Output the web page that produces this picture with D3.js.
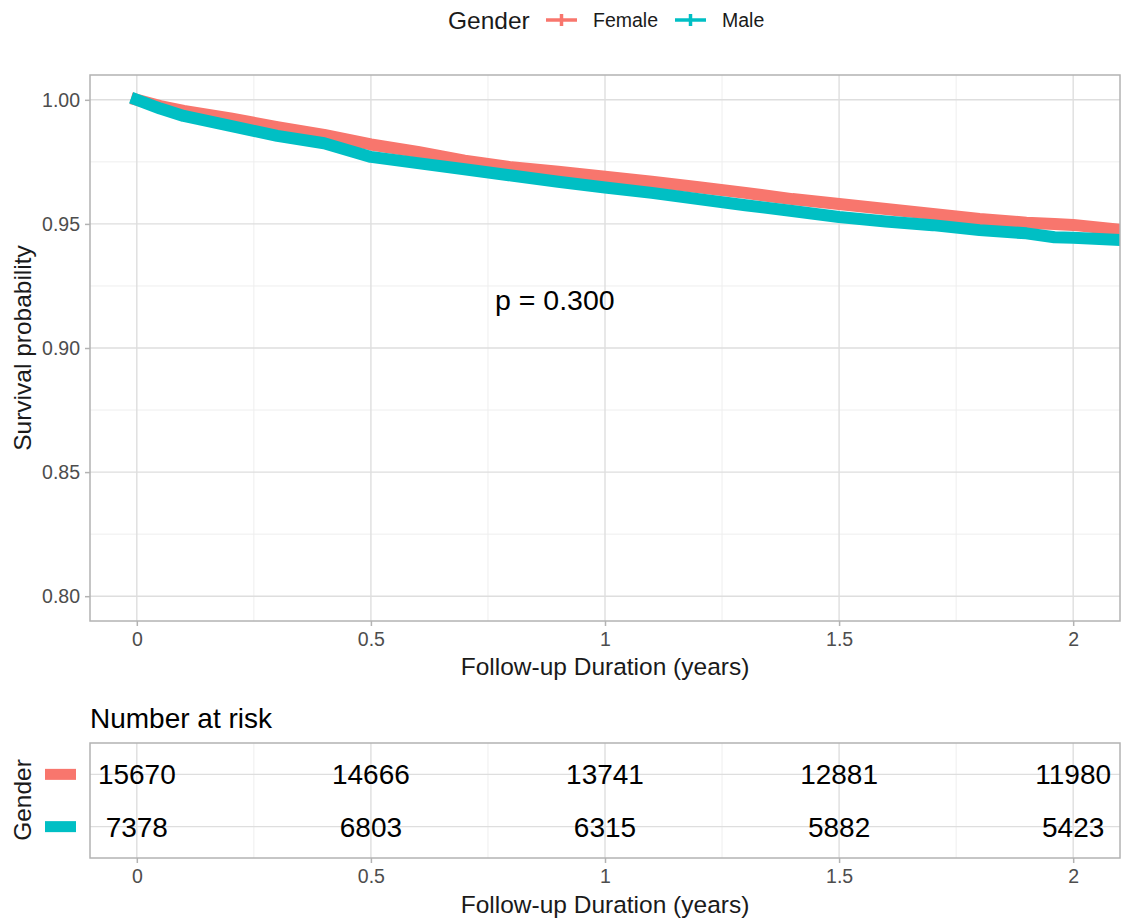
<!DOCTYPE html>
<html>
<head>
<meta charset="utf-8">
<script src="https://cdn.jsdelivr.net/npm/d3@7"></script>
<style>
  body { margin: 0; background: #fff; }
  svg { font-family: "Liberation Sans", Arial, sans-serif; }
</style>
</head>
<body>
<svg id="chart" width="1124" height="920"></svg>
<script>
// survival estimates (years, probability)
const times = [0, 0.05, 0.1, 0.2, 0.3, 0.4, 0.5, 0.6, 0.7, 0.8, 0.9, 1.0, 1.1, 1.2, 1.3, 1.4, 1.5, 1.6, 1.7, 1.8, 1.9, 1.96, 2.0, 2.1];
const femaleSurv = [1.000, 0.9975, 0.9955, 0.9925, 0.989, 0.9859, 0.982, 0.979, 0.9755, 0.9728, 0.971, 0.969, 0.967, 0.9648, 0.9625, 0.960, 0.958, 0.956, 0.954, 0.952, 0.9505, 0.950, 0.9496, 0.9476];
const maleSurv = [1.000, 0.9965, 0.9935, 0.9895, 0.9855, 0.9825, 0.977, 0.9745, 0.972, 0.9695, 0.967, 0.9647, 0.9625, 0.960, 0.9575, 0.9552, 0.9528, 0.951, 0.9495, 0.9475, 0.9462, 0.9446, 0.9444, 0.9435];

const groups = ['Female', 'Male'];
const colors = ['#F8766D', '#00BFC4'];

const riskTimes = [0, 0.5, 1, 1.5, 2];
const riskFemale = [15670, 14666, 13741, 12881, 11980];
const riskMale = [7378, 6803, 6315, 5882, 5423];

const xTicks = [0, 0.5, 1, 1.5, 2];
const xMinor = [0.25, 0.75, 1.25, 1.75];
const yTicks = [0.80, 0.85, 0.90, 0.95, 1.00];
const yMinor = [0.825, 0.875, 0.925, 0.975];

const pText = 'p = 0.300';

const svg = d3.select('#chart');
const gridMajor = '#dedede';
const gridMinor = '#eeeeee';
const borderCol = '#b3b3b3';
const tickText = '#4d4d4d';

const x = d3.scaleLinear().domain([-0.1, 2.1]).range([90, 1120]);
const y = d3.scaleLinear().domain([0.79, 1.01]).range([621, 75]);

// ---------- legend ----------
const legend = svg.append('g');
legend.append('text')
  .attr('x', 448).attr('y', 29)
  .style('font-size', '24.5px').attr('fill', '#1a1a1a')
  .text('Gender');
const legendX = [546, 675];
groups.forEach((g, i) => {
  const lg = legend.append('g').attr('transform', `translate(${legendX[i]},20)`);
  lg.append('line').attr('x1', 0).attr('x2', 31).attr('y1', 0).attr('y2', 0)
    .attr('stroke', colors[i]).attr('stroke-width', 3.5);
  lg.append('line').attr('x1', 15.5).attr('x2', 15.5).attr('y1', -6).attr('y2', 6)
    .attr('stroke', colors[i]).attr('stroke-width', 3.5);
  lg.append('text').attr('x', 47).attr('y', 7)
    .style('font-size', '19.5px').attr('fill', '#1a1a1a')
    .text(g);
});

// ---------- survival panel ----------
const panel = svg.append('g');
panel.selectAll('.ymin').data(yMinor).join('line')
  .attr('x1', 90).attr('x2', 1120)
  .attr('y1', (d) => y(d)).attr('y2', (d) => y(d))
  .attr('stroke', gridMinor).attr('stroke-width', 1);
panel.selectAll('.xmin').data(xMinor).join('line')
  .attr('y1', 75).attr('y2', 621)
  .attr('x1', (d) => x(d)).attr('x2', (d) => x(d))
  .attr('stroke', gridMinor).attr('stroke-width', 1);
panel.selectAll('.ymaj').data(yTicks).join('line')
  .attr('x1', 90).attr('x2', 1120)
  .attr('y1', (d) => y(d)).attr('y2', (d) => y(d))
  .attr('stroke', gridMajor).attr('stroke-width', 1.4);
panel.selectAll('.xmaj').data(xTicks).join('line')
  .attr('y1', 75).attr('y2', 621)
  .attr('x1', (d) => x(d)).attr('x2', (d) => x(d))
  .attr('stroke', gridMajor).attr('stroke-width', 1.4);

svg.append('clipPath').attr('id', 'clip')
  .append('rect').attr('x', 90).attr('y', 75).attr('width', 1030).attr('height', 546);

// censor marks are so dense that each curve reads as a solid band
const survLine = d3.line();
const series = [femaleSurv, maleSurv];
series.forEach((vals, i) => {
  const pts = times.map((t, k) => [x(t), y(vals[k])]);
  panel.append('path')
    .attr('clip-path', 'url(#clip)')
    .attr('d', survLine(pts))
    .attr('fill', 'none')
    .attr('stroke', colors[i])
    .attr('stroke-width', 12)
    .attr('stroke-linejoin', 'round')
    .attr('stroke-linecap', 'square');
});

panel.append('text')
  .attr('x', 495).attr('y', 310)
  .style('font-size', '28.5px').attr('fill', '#000')
  .text(pText);

panel.append('rect')
  .attr('x', 90).attr('y', 75).attr('width', 1030).attr('height', 546)
  .attr('fill', 'none').attr('stroke', borderCol).attr('stroke-width', 1.5);

const styleAxis = (g) => {
  g.select('.domain').remove();
  g.selectAll('.tick line').attr('stroke', borderCol).attr('stroke-width', 1.5);
  g.selectAll('.tick text').attr('fill', tickText).style('font-size', '19.5px')
    .attr('font-family', null);
};

svg.append('g')
  .attr('transform', 'translate(90,0)')
  .call(d3.axisLeft(y).tickValues(yTicks).tickFormat(d3.format('.2f')).tickSize(5).tickPadding(5))
  .call(styleAxis);

svg.append('g')
  .attr('transform', 'translate(0,621)')
  .call(d3.axisBottom(x).tickValues(xTicks).tickFormat((d) => String(d)).tickSize(5).tickPadding(6))
  .call(styleAxis);

svg.append('text')
  .attr('transform', 'translate(31,348) rotate(-90)')
  .attr('text-anchor', 'middle')
  .style('font-size', '24.5px').attr('fill', '#1a1a1a')
  .text('Survival probability');

svg.append('text')
  .attr('x', 605).attr('y', 675)
  .attr('text-anchor', 'middle')
  .style('font-size', '24.5px').attr('fill', '#1a1a1a')
  .text('Follow-up Duration (years)');

// ---------- risk table ----------
const rTop = 743, rBottom = 858;
const yRisk = d3.scalePoint().domain(groups).range([rTop, rBottom]).padding(0.6);

svg.append('text')
  .attr('x', 90).attr('y', 728)
  .style('font-size', '28px').attr('fill', '#000')
  .text('Number at risk');

const table = svg.append('g');
table.selectAll('.xmin').data(xMinor).join('line')
  .attr('y1', rTop).attr('y2', rBottom)
  .attr('x1', (d) => x(d)).attr('x2', (d) => x(d))
  .attr('stroke', gridMinor).attr('stroke-width', 1);
table.selectAll('.xmaj').data(xTicks).join('line')
  .attr('y1', rTop).attr('y2', rBottom)
  .attr('x1', (d) => x(d)).attr('x2', (d) => x(d))
  .attr('stroke', gridMajor).attr('stroke-width', 1.4);
table.selectAll('.ymaj').data(groups).join('line')
  .attr('x1', 90).attr('x2', 1120)
  .attr('y1', (d) => yRisk(d)).attr('y2', (d) => yRisk(d))
  .attr('stroke', gridMajor).attr('stroke-width', 1.4);

const riskRows = [riskFemale, riskMale];
riskRows.forEach((row, i) => {
  table.selectAll(null).data(row).join('text')
    .attr('x', (d, k) => x(riskTimes[k]))
    .attr('y', yRisk(groups[i]))
    .attr('dy', '0.36em')
    .attr('text-anchor', 'middle')
    .style('font-size', '28px').attr('fill', '#000')
    .text((d) => d);
  table.append('rect')
    .attr('x', 45).attr('y', yRisk(groups[i]) - 5.5)
    .attr('width', 31).attr('height', 11)
    .attr('fill', colors[i]);
});

table.append('rect')
  .attr('x', 90).attr('y', rTop).attr('width', 1030).attr('height', rBottom - rTop)
  .attr('fill', 'none').attr('stroke', borderCol).attr('stroke-width', 1.5);

svg.append('g')
  .attr('transform', `translate(0,${rBottom})`)
  .call(d3.axisBottom(x).tickValues(xTicks).tickFormat((d) => String(d)).tickSize(5).tickPadding(6))
  .call(styleAxis);

svg.append('text')
  .attr('transform', 'translate(31,800) rotate(-90)')
  .attr('text-anchor', 'middle')
  .style('font-size', '24.5px').attr('fill', '#1a1a1a')
  .text('Gender');

svg.append('text')
  .attr('x', 605).attr('y', 913)
  .attr('text-anchor', 'middle')
  .style('font-size', '24.5px').attr('fill', '#1a1a1a')
  .text('Follow-up Duration (years)');
</script>
</body>
</html>
